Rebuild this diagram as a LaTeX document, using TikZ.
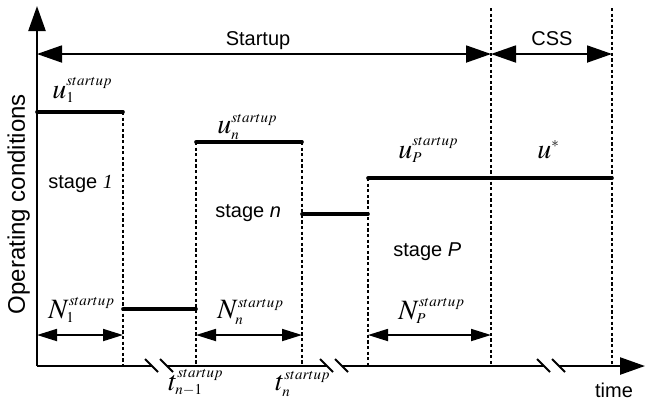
\documentclass[tikz,border=0pt]{standalone}
\usepackage{mathptmx}
\usepackage{fontspec}
\setmainfont{Liberation Sans}
\newfontfamily\tmsfont{Liberation Serif}
\DeclareMathSizes{14}{14}{7.5}{6}
\usetikzlibrary{arrows.meta}

\tikzset{
  bigtip/.tip={Triangle[length=12.5pt,width=8.5pt]},
  smalltip/.tip={Triangle[length=10pt,width=6pt]},
  axis/.style={line width=1.2pt,-bigtip},
  span/.style={line width=0.9pt,bigtip-bigtip},
  stagespan/.style={line width=0.9pt,smalltip-smalltip},
  level/.style={line width=1.8pt,line cap=round},
  bound/.style={line width=0.8pt,dash pattern=on 1.6pt off 1.2pt},
  brk/.style={line width=0.9pt},
  lbl/.style={inner sep=0pt,anchor=base west},
  mlbl/.style={inner sep=0pt,anchor=base west,font=\fontsize{14}{16}\selectfont},
}

\begin{document}
\begin{tikzpicture}[x=0.5pt,y=-0.5pt]
\useasboundingbox (0,0) rectangle (646,404);

% axes
\coordinate (o) at (37,366);
\coordinate (ytop) at (37,6);
\coordinate (xend) at (645,366);
\draw[axis] (o) -- (ytop);
\draw[axis] (o) -- (xend);
\node[rotate=90,font=\large,anchor=base] (ylab) at (25,204) {Operating conditions};
\node[lbl,anchor=base] (xlab) at (614,397) {time};

% stage boundaries (from the level down to the time axis)
\foreach \nm/\xx/\yy in {b1/123/112, b2/196/142, b3/302/142, b4/368/178, b5/491/8, b6/612/8}
  \draw[bound] (\xx,\yy) coordinate (\nm) -- (\xx,366) coordinate (\nm a);

% operating levels
\draw[level] (37,112) coordinate (l1) -- (b1);
\draw[level] (b1 |- 0,309) -- (b2 |- 0,309);
\draw[level] (b2) -- (b3);
\draw[level] (b3 |- 0,214) -- (b4 |- 0,214);
\draw[level] (b4) -- (b6 |- b4);

% startup / css spans
\coordinate (sp0) at (37,54);
\draw[span] (sp0) -- (sp0 -| b5);
\draw[span] (sp0 -| b5) -- (sp0 -| b6);
\node[lbl,anchor=base] (startup) at (258,45) {Startup};
\node[lbl,anchor=base] (css) at (552,45) {CSS};

% stage lengths
\coordinate (n0) at (37,335);
\draw[stagespan] (n0) -- (n0 -| b1);
\draw[stagespan] (n0 -| b2) -- (n0 -| b3);
\draw[stagespan] (n0 -| b4) -- (n0 -| b5);
\node[mlbl] (N1) at (48,318) {$N_1^{startup}$};
\node[mlbl] (Nn) at (217,318) {$N_n^{startup}$};
\node[mlbl] (NP) at (398,319) {$N_P^{startup}$};

% levels and stage names
\node[mlbl] (u1) at (52,98) {$u_1^{startup}$};
\node[mlbl] (un) at (217,133) {$u_n^{startup}$};
\node[mlbl] (uP) at (398,158) {$u_P^{startup}$};
\node[mlbl] (us) at (537,158) {$u^*$};
\node[lbl] (st1) at (48,188) {stage {\tmsfont\itshape 1}};
\node[lbl] (stn) at (215,217) {stage \textit{n}};
\node[lbl] (stP) at (393,256) {stage \textit{P}};

% switching times
\node[mlbl] (tn1) at (168,390) {$t_{n-1}^{startup}$};
\node[mlbl] (tn) at (275,390) {$t_n^{startup}$};

% axis breaks
\foreach \bx in {159,334,551} {
  \draw[white,line width=3pt] (\bx-7.5,366) -- (\bx+7.5,366);
  \draw[brk] (\bx-14,359) -- (\bx-1,372) (\bx+1,359) -- (\bx+14,372);
}
\end{tikzpicture}
\end{document}
